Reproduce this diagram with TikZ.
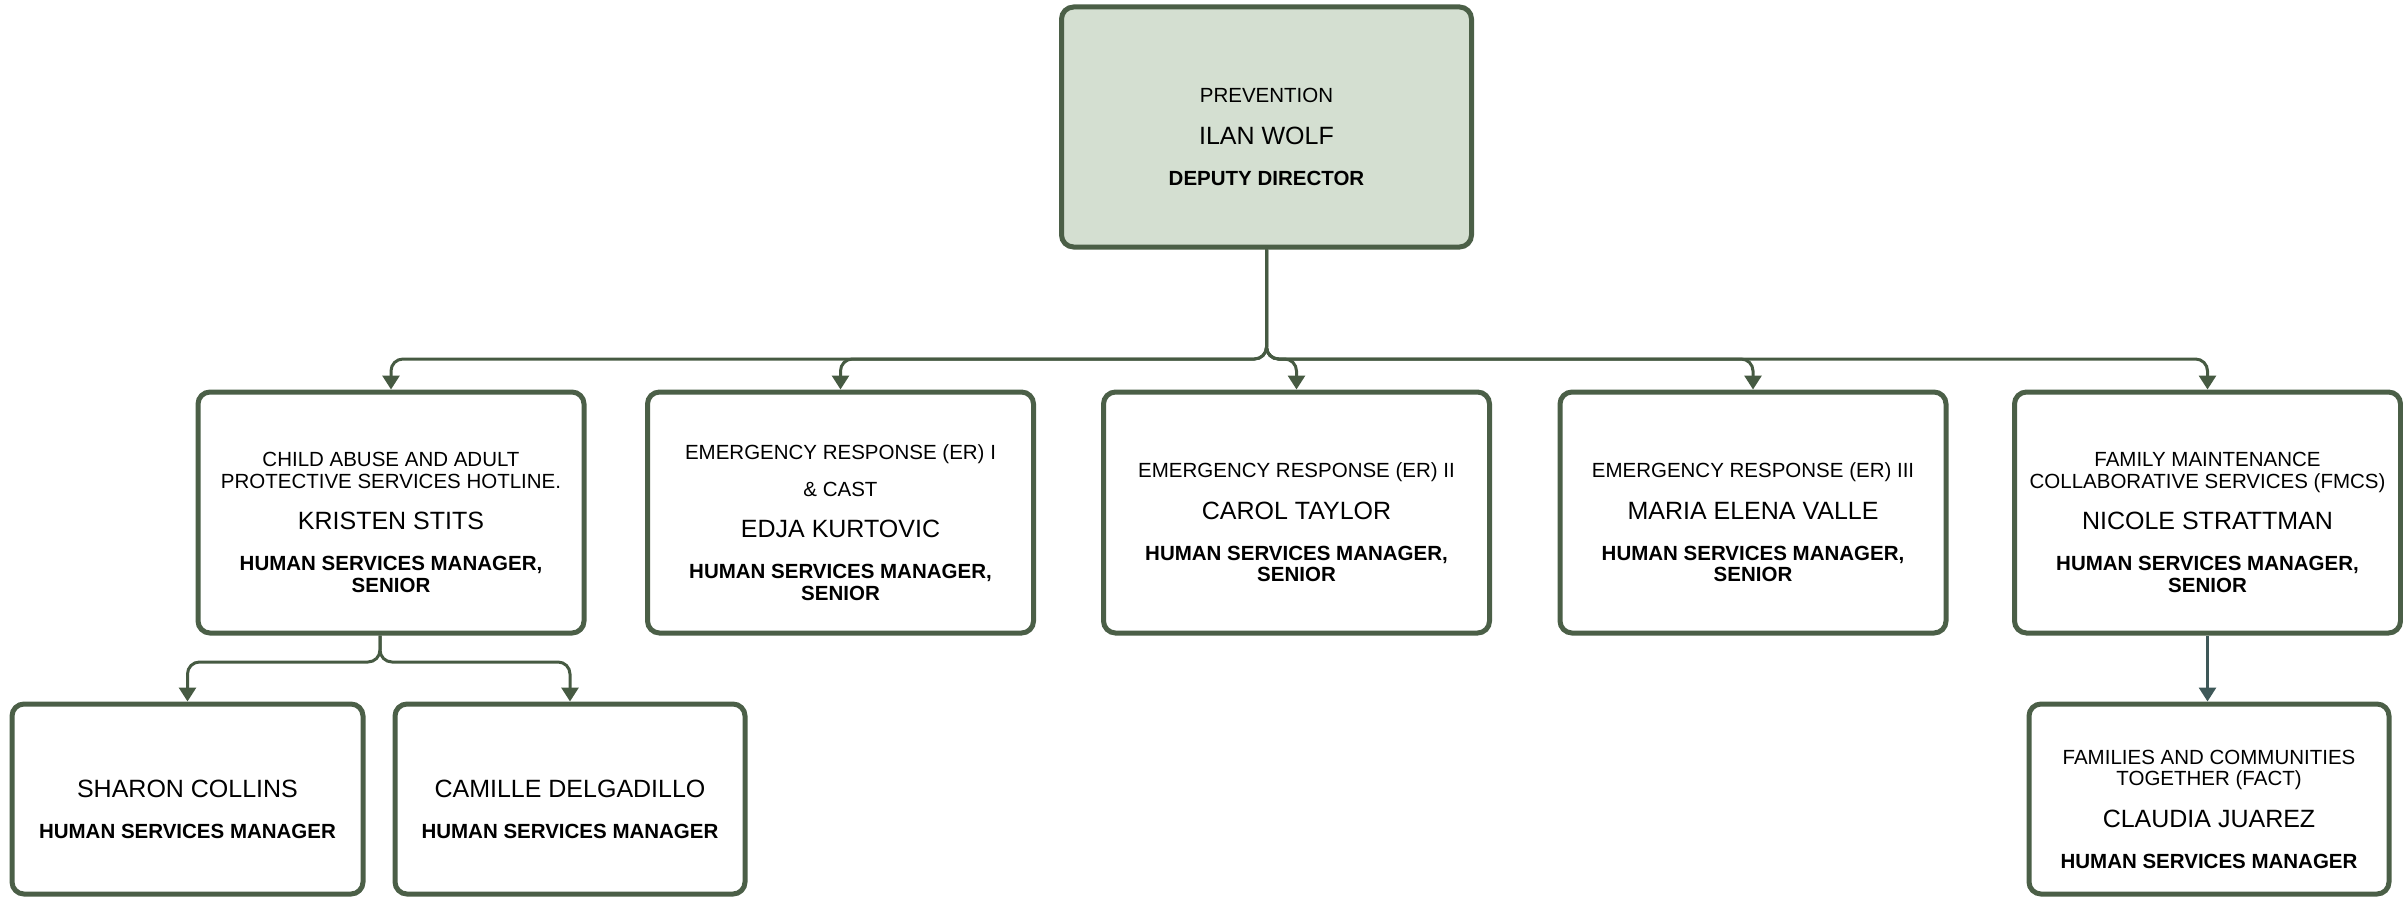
\documentclass[tikz,border=0pt]{standalone}
\usepackage{fontspec}
\setmainfont{Liberation Sans}
\usetikzlibrary{arrows.meta}
\definecolor{bord}{HTML}{4B5F47}
\definecolor{topfill}{HTML}{D4DFD1}
\definecolor{lnk}{HTML}{465A42}
\definecolor{lnkb}{HTML}{3E5858}
\newcommand\orgcard[4][372pt]{%
  \begin{minipage}{#1}\centering\lineskiplimit=-1000pt
  \vspace*{20pt}%
  \ifx&#2&\else{\fontsize{20.5}{21.5}\selectfont #2\par}\vspace{20pt}\fi
  {\fontsize{25}{21.5}\selectfont #3\par}\vspace{19.5pt}%
  {\bfseries\fontsize{20.5}{21.5}\selectfont #4\par}%
  \end{minipage}}
\begin{document}
\begin{tikzpicture}[x=1pt,y=-1pt,
  card/.style={draw=bord, line width=5pt, rounded corners=12pt, fill=white,
    inner sep=0pt, minimum width=386pt, minimum height=241pt, align=center},
  conn/.style={draw=lnk, line width=3pt, rounded corners=12pt,
    -{Triangle[width=17pt,length=14pt]}}]
\useasboundingbox (0,0) rectangle (2403,899);

\node[card, fill=topfill, minimum width=410pt, minimum height=240pt] (top) at (1266.5,127)
  {\orgcard{PREVENTION}{ILAN WOLF}{DEPUTY DIRECTOR}};

\node[card] (m1) at (391,512.5)
  {\orgcard{CHILD ABUSE AND ADULT\\PROTECTIVE SERVICES HOTLINE.}{KRISTEN STITS}{HUMAN SERVICES MANAGER,\\SENIOR}};
\node[card] (m2) at (840.5,512.5)
  {\orgcard{EMERGENCY RESPONSE (ER) I\par\vspace{15pt}\& CAST}{EDJA KURTOVIC}{HUMAN SERVICES MANAGER,\\SENIOR}};
\node[card] (m3) at (1296.5,512.5)
  {\orgcard{EMERGENCY RESPONSE (ER) II}{CAROL TAYLOR}{HUMAN SERVICES MANAGER,\\SENIOR}};
\node[card] (m4) at (1753,512.5)
  {\orgcard{EMERGENCY RESPONSE (ER) III}{MARIA ELENA VALLE}{HUMAN SERVICES MANAGER,\\SENIOR}};
\node[card] (m5) at (2207.5,512.5)
  {\orgcard{FAMILY MAINTENANCE\\COLLABORATIVE SERVICES (FMCS)}{NICOLE STRATTMAN}{HUMAN SERVICES MANAGER,\\SENIOR}};

\node[card, minimum width=351pt, minimum height=190pt] (b1) at (187.5,799)
  {\orgcard[320pt]{}{SHARON COLLINS}{HUMAN SERVICES MANAGER}};
\node[card, minimum width=350pt, minimum height=190pt] (b2) at (570,799)
  {\orgcard[320pt]{}{CAMILLE DELGADILLO}{HUMAN SERVICES MANAGER}};
\node[card, minimum width=360pt, minimum height=190pt] (f) at (2209,799)
  {\orgcard[330pt]{FAMILIES AND COMMUNITIES\\TOGETHER (FACT)}{CLAUDIA JUAREZ}{HUMAN SERVICES MANAGER}};

\coordinate (bus) at (1266.5,359);
\foreach \m in {m1,m2,m3,m4,m5}
  \draw[conn] (top.south) |- (\m.north |- bus) -- (\m.north);

\coordinate (s1) at ([xshift=-11pt]m1.south);
\coordinate (br) at (380,662);
\foreach \b in {b1,b2}
  \draw[conn] (s1) |- (\b.north |- br) -- (\b.north);

\draw[conn, draw=lnkb] (m5.south) -- (m5.south |- f.north);
\end{tikzpicture}
\end{document}
